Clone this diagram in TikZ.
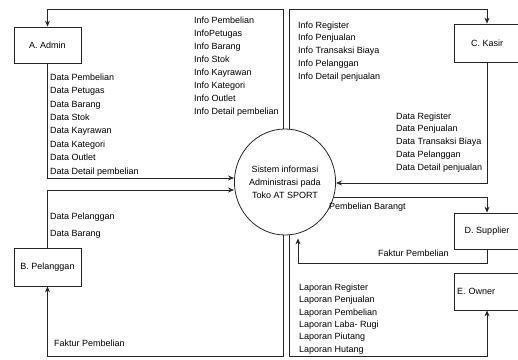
\documentclass[tikz,border=0pt]{standalone}
\usepackage{fontspec}
\setmainfont{Liberation Sans}
\usetikzlibrary{shapes.geometric, arrows.meta}

\tikzset{
  ent/.style={draw=black!85, line width=0.8pt, minimum width=67pt, minimum height=37pt, inner sep=2pt, font=\fontsize{9}{11}\selectfont},
  proc/.style={draw=black!85, ellipse, line width=0.8pt, minimum width=82pt, minimum height=106pt, inner sep=0pt, align=center, font=\fontsize{9}{13}\selectfont},
  flow/.style={draw=black!85, line width=0.8pt, -{Stealth[length=6pt,width=5pt]}},
  lbl/.style={anchor=base west, inner sep=0pt, font=\fontsize{9}{11}\selectfont}
}

\begin{document}
\begin{tikzpicture}[x=1pt, y=-1pt]
    \useasboundingbox (0,0) rectangle (518,359);

    \node (sis) [proc] at (285,182) {Sistem informasi\\Administrasi pada\\Toko AT SPORT};
    \node (adm) [ent, minimum height=36pt] at (47.5,45) {A. Admin};
    \node (pel) [ent, minimum height=38pt] at (47.5,267) {B. Pelanggan};
    \node (kas) [ent, minimum width=66pt, minimum height=38pt] at (487,43) {C. Kasir};
    \node (sup) [ent, minimum width=66pt, minimum height=36pt] at (487,231) {D. Supplier};
    \node (own) [ent, minimum width=66pt, text width=60pt, align=left, inner xsep=3pt] at (487,291.5) {E. Owner};

    % arus data
    \draw[flow] ([xshift=-2pt]sis.north) |- ([yshift=17pt]adm.north) -- (adm.north);
    \draw[flow] ([xshift=4pt]sis.north) |- ([yshift=14pt]kas.north) -- (kas.north);
    \draw[flow] (adm.south) |- ([yshift=4pt]sis.west);
    \draw[flow] (pel.north) |- ([yshift=-8pt]sis.west);
    \draw[flow] (kas.south) |- ([yshift=-1pt]sis.east);
    \draw[flow] ([shift={(-1.5pt,-15pt)}]sis.east) -| (sup.north);
    \draw[flow] (sup.south) -- ++(0,14) -| ([shift={(13pt,-3pt)}]sis.south);
    \draw[flow] ([xshift=-2pt]sis.south) |- ([yshift=-70pt]pel.south) -- (pel.south);
    \draw[flow] ([xshift=4pt]sis.south) |- ([yshift=-46pt]own.south) -- (own.south);

    % label
    \foreach \t [count=\i from 0] in {Data Pembelian, Data Petugas, Data Barang, Data Stok, Data Kayrawan, Data Kategori, Data Outlet, Data Detail pembelian}
    \node (da\i) [lbl] at (50,80.2+13.4*\i) {\t};
    \foreach \t [count=\i from 0] in {Info Pembelian, InfoPetugas, Info Barang, Info Stok, Info Kayrawan, Info Kategori, Info Outlet, Info Detail pembelian}
    \node (ia\i) [lbl] at (194,23.2+13.1*\i) {\t};
    \foreach \t [count=\i from 0] in {Info Register, Info Penjualan, Info Transaksi Biaya, Info Pelanggan, Info Detail penjualan}
    \node (ik\i) [lbl] at (298,28.2+12.75*\i) {\t};
    \foreach \t [count=\i from 0] in {Data Register, Data Penjualan, Data Transaksi Biaya, Data Pelanggan, Data Detail penjualan}
    \node (dk\i) [lbl] at (396,119.2+12.75*\i) {\t};
    \foreach \t [count=\i from 0] in {Laporan Register, Laporan Penjualan, Laporan Pembelian, Laporan Laba- Rugi, Laporan Piutang, Laporan Hutang}
    \node (lo\i) [lbl] at (299,290.2+12.4*\i) {\t};
    \node (dp0) [lbl] at (50,219.2) {Data Pelanggan};
    \node (dp1) [lbl] at (50,236.2) {Data Barang};
    \node (fp) [lbl] at (54,346.2) {Faktur Pembelian};
    \node (pb) [lbl] at (329,209.2) {Pembelian Barangt};
    \node (fs) [lbl] at (378,256.2) {Faktur Pembelian};

\end{tikzpicture}
\end{document}
